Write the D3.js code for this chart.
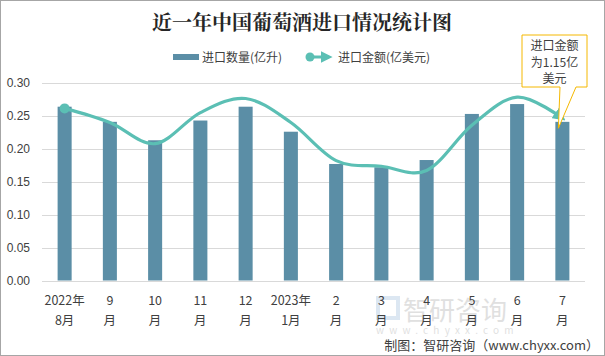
<!DOCTYPE html>
<html><head><meta charset="utf-8">
<script src="https://cdn.jsdelivr.net/npm/d3@7"></script>
<style>
body{margin:0;background:#fff;}
svg{display:block;font-family:"Noto Sans CJK SC","Microsoft YaHei",sans-serif;}
</style></head>
<body><svg id="c" width="605" height="356"></svg>
<script>
const categoriesTop = ["2022年","9","10","11","12","2023年","2","3","4","5","6","7"];
const categoriesBottom = ["8月","月","月","月","月","1月","月","月","月","月","月","月"];
const volume = [0.264,0.241,0.213,0.243,0.264,0.226,0.177,0.172,0.183,0.253,0.268,0.241];
const amount = [1.22,1.12,0.97,1.19,1.29,1.12,0.85,0.81,0.78,1.10,1.30,1.15];
const yTicks = [0,0.05,0.10,0.15,0.20,0.25,0.30];
const title = "近一年中国葡萄酒进口情况统计图";
const legendNames = ["进口数量(亿升)","进口金额(亿美元)"];
const calloutLines = ["进口金额","为1.15亿","美元"];
const footer = "制图：智研咨询（www.chyxx.com）";

const svg = d3.select("#c");
const W=605,H=356;
const L=42,R=585,T=83,B=280.5;
const barColor="#5b8ea6", lineColor="#5bbfb4";

svg.append("rect").attr("x",0.5).attr("y",0.5).attr("width",W-1).attr("height",H-1)
  .attr("fill","#fff").attr("stroke","#a6a6a6");

const idx = d3.range(categoriesTop.length);
const x = d3.scaleBand().domain(idx).range([L,R]).paddingInner(0.69).paddingOuter(0.345);
const y = d3.scaleLinear().domain([0,0.30]).range([B,T]);
const y2 = d3.scaleLinear().domain([0,1.4]).range([B,T]);
const cx = i => x(i)+x.bandwidth()/2;

// grid
svg.append("g").selectAll("line").data(yTicks).join("line")
  .attr("x1",L).attr("x2",R).attr("y1",d=>Math.round(y(d))+0.5).attr("y2",d=>Math.round(y(d))+0.5)
  .attr("stroke","#d9d9d9").attr("stroke-width",1);

// y axis labels
const yAxis = d3.axisLeft(y).tickValues(yTicks).tickFormat(d3.format(".2f")).tickSize(0).tickPadding(0);
const ga = svg.append("g").attr("transform","translate(30,0)").call(yAxis);
ga.select(".domain").remove();
ga.selectAll("text").attr("fill","#404040").attr("font-size",12).attr("font-family","Liberation Sans, Arial, sans-serif");

// bars
svg.append("g").selectAll("rect").data(volume).join("rect")
  .attr("x",(d,i)=>x(i)).attr("width",x.bandwidth())
  .attr("y",d=>y(d)).attr("height",d=>B-y(d)).attr("fill",barColor);

// watermark (behind labels)
const wm = svg.append("g").attr("opacity",0.3);
wm.append("rect").attr("x",378).attr("y",298).attr("width",20).attr("height",20).attr("fill","none").attr("stroke","#8fb3d6").attr("stroke-width",4);
wm.append("text").attr("x",403).attr("y",320).attr("font-size",26).attr("fill","#9a9a9a").text("智研咨询");
wm.append("text").attr("x",376).attr("y",334).attr("font-size",10).attr("fill","#9a9a9a").attr("letter-spacing",5.2).text("www.chyxx.com");

// x labels
const gx = svg.append("g");
idx.forEach(i=>{
  gx.append("text").attr("x",cx(i)).attr("y",305).attr("text-anchor","middle")
    .attr("font-size",12.5).attr("fill","#404040").text(categoriesTop[i]);
  gx.append("text").attr("x",cx(i)).attr("y",325).attr("text-anchor","middle")
    .attr("font-size",12.5).attr("fill","#404040").text(categoriesBottom[i]);
});

// line
const defs = svg.append("defs");
defs.append("marker").attr("id","arr").attr("viewBox","0 0 10 10").attr("refX",7).attr("refY",5)
  .attr("markerWidth",4).attr("markerHeight",4).attr("orient","auto")
  .append("path").attr("d","M0,0 L10,5 L0,10 Z").attr("fill",lineColor);
const line = d3.line().x((d,i)=>cx(i)).y(d=>y2(d)).curve(d3.curveCardinal.tension(0));
svg.append("path").datum(amount).attr("d",line).attr("fill","none").attr("stroke",lineColor)
  .attr("stroke-width",3.2).attr("marker-end","url(#arr)");
svg.append("circle").attr("cx",cx(0)).attr("cy",y2(amount[0])).attr("r",5).attr("fill",lineColor);

// callout
const lx = cx(11), ly = y2(amount[11]);
const bx0=522,bx1=587,by0=35,by1=87;
const tipX = lx-4, tipY = ly+10;
svg.append("path")
  .attr("d",`M${bx0},${by0}H${bx1}V${by1}H${576}L${tipX},${tipY}L${560},${by1}H${bx0}Z`)
  .attr("fill","#fff").attr("stroke","#f5b800").attr("stroke-width",1);
calloutLines.forEach((t,k)=>{
  svg.append("text").attr("x",(bx0+bx1)/2).attr("y",50+k*16.5).attr("text-anchor","middle")
    .attr("font-size",12).attr("fill","#404040").text(t);
});

// title
svg.append("text").attr("x",302).attr("y",30).attr("text-anchor","middle")
  .attr("font-size",20).attr("font-weight","bold").attr("fill","#262626")
  .attr("font-family","'Noto Serif CJK SC','Noto Sans CJK SC',serif").text(title);

// legend
const lg = svg.append("g");
lg.append("rect").attr("x",173).attr("y",54).attr("width",26).attr("height",6).attr("fill",barColor);
lg.append("text").attr("x",202).attr("y",62).attr("font-size",12).attr("fill","#404040").text(legendNames[0]);
lg.append("line").attr("x1",310).attr("x2",329).attr("y1",57).attr("y2",57).attr("stroke",lineColor).attr("stroke-width",3).attr("marker-end","url(#arr)");
lg.append("circle").attr("cx",310).attr("cy",57).attr("r",4.5).attr("fill",lineColor);
lg.append("text").attr("x",338).attr("y",62).attr("font-size",12).attr("fill","#404040").text(legendNames[1]);

// footer
svg.append("text").attr("x",599).attr("y",350).attr("text-anchor","end")
  .attr("font-size",13).attr("fill","#404040").text(footer);
</script></body></html>
